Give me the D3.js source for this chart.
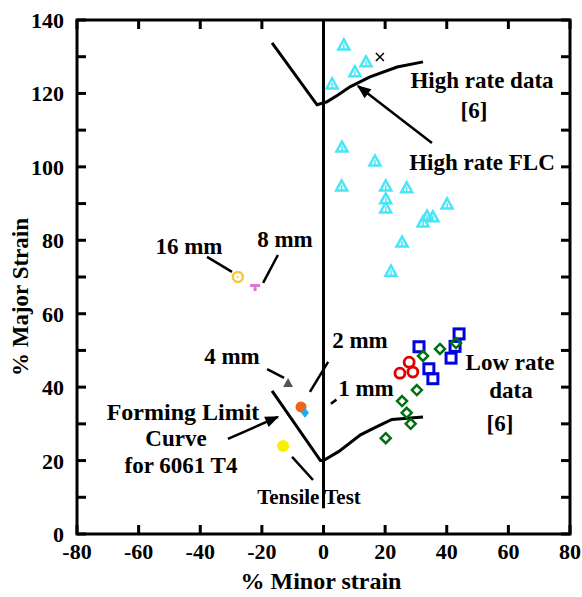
<!DOCTYPE html>
<html>
<head>
<meta charset="utf-8">
<script src="https://cdn.jsdelivr.net/npm/d3@7"></script>
<style>
  body { margin: 0; background: #fff; }
  svg text { font-family: "Liberation Serif", "DejaVu Serif", serif; font-weight: bold; fill: #000; }
</style>
</head>
<body>
<div class="chart"></div>
<script>
// high rate data [6] (cyan triangles)
const highRate = [
  [6.6, 133.2], [13.8, 128.6], [10.2, 125.9], [2.8, 122.6],
  [6.0, 105.4], [16.7, 101.6], [5.9, 94.8], [20.2, 94.8], [27.0, 94.3],
  [20.2, 91.3], [20.2, 88.8], [40.1, 89.9], [33.6, 86.6], [35.5, 86.4],
  [32.3, 85.0], [25.5, 79.5], [21.9, 71.6]
];
const highRateX = [[18.3, 129.9]];

// low rate data [6]
const lowSquares = [[44.0, 54.5], [31.0, 51.0], [42.7, 51.1], [41.4, 47.9], [34.2, 45.0], [35.5, 42.3]];
const lowCircles = [[27.8, 46.8], [24.8, 43.8], [29.0, 44.1]];
const lowDiamonds = [[37.8, 50.4], [32.3, 48.5], [43.0, 52.0], [30.3, 39.2], [25.5, 36.2], [27.0, 33.0], [28.3, 30.0], [20.2, 26.1]];

// punch size points
const mm16 = [-27.8, 70.0];
const mm8 = [-22.2, 67.3];
const mm4 = [-11.5, 41.1];
const mm2 = [-7.3, 34.6];
const mm1 = [-6.0, 33.0];
const tensile = [-13.1, 24.0];

// forming limit curves
const flcLow = [[-16.7, 39.0], [-1.0, 20.0], [0, 20.0], [5, 22.5], [12, 27], [17, 29.1], [22.2, 31.2], [32.3, 31.9]];
const flcHigh = [[-16.7, 133.8], [-2.1, 116.9], [1.1, 117.7], [4.7, 119.6], [8.6, 121.8], [15.1, 124.5], [23.9, 127.2], [32.3, 128.6]];
const zeroLine = [[0, 140], [0, 7]];

// leaders and arrows
const leaders = [
  [[-37.8, 75.5], [-29.7, 71.4]],
  [[-14.8, 76.0], [-19.6, 68.4]],
  [[-18.3, 44.9], [-12.8, 42.5]],
  [[1.5, 46.9], [-4.4, 38.7]],
  [[4.2, 36.6], [2.4, 35.5]],
  [[-3.4, 14.7], [-10.2, 21.0]]
];
const arrows = [
  [[35.2, 106.5], [11.2, 122.0]],
  [[-31.0, 25.9], [-14.8, 31.9]]
];

const xTicks = [-80, -60, -40, -20, 0, 20, 40, 60, 80];
const yTicks = [0, 20, 40, 60, 80, 100, 120, 140];
const yMinor = [10, 30, 50, 70, 90, 110, 130];

const width = 582;
const height = 597;
const m = { left: 77, right: 570, top: 20, bottom: 534 };

const svg = d3.select(".chart").append("svg").attr("width", width).attr("height", height);

const x = d3.scaleLinear().domain([-80, 80]).range([m.left, m.right]);
const y = d3.scaleLinear().domain([0, 140]).range([m.bottom, m.top]);

svg.append("defs").append("marker")
  .attr("id", "head").attr("viewBox", "0 0 10 10").attr("refX", 9).attr("refY", 5)
  .attr("markerWidth", 16).attr("markerHeight", 14).attr("orient", "auto")
  .attr("markerUnits", "userSpaceOnUse")
  .append("path").attr("d", "M0,1 L10,5 L0,9 Z").attr("fill", "#000");

// frame
svg.append("rect").attr("x", m.left).attr("y", m.top).attr("width", m.right - m.left).attr("height", m.bottom - m.top)
  .attr("fill", "none").attr("stroke", "#000").attr("stroke-width", 3);

// ticks (inward)
const tl = 9;
const g = svg.append("g").attr("stroke", "#000").attr("stroke-width", 3);
xTicks.forEach((t) => {
  g.append("line").attr("x1", x(t)).attr("x2", x(t)).attr("y1", m.bottom).attr("y2", m.bottom - tl);
  g.append("line").attr("x1", x(t)).attr("x2", x(t)).attr("y1", m.top).attr("y2", m.top + tl);
});
yTicks.concat(yMinor).forEach((t) => {
  g.append("line").attr("x1", m.left).attr("x2", m.left + tl).attr("y1", y(t)).attr("y2", y(t));
  g.append("line").attr("x1", m.right).attr("x2", m.right - tl).attr("y1", y(t)).attr("y2", y(t));
});

// tick labels
svg.selectAll(".xl").data(xTicks).join("text")
  .attr("x", (d) => x(d)).attr("y", 559).attr("text-anchor", "middle")
  .attr("font-size", 22).text((d) => d);
svg.selectAll(".yl").data(yTicks).join("text")
  .attr("x", 64).attr("y", (d) => y(d) + 8).attr("text-anchor", "end")
  .attr("font-size", 22).text((d) => d);

// axis titles
svg.append("text").attr("x", 321).attr("y", 589).attr("text-anchor", "middle")
  .attr("font-size", 24).text("% Minor strain");
svg.append("text").attr("transform", "translate(28,297) rotate(-90)").attr("text-anchor", "middle")
  .attr("font-size", 23).text("% Major Strain");

// curves
const line = d3.line().x((d) => x(d[0])).y((d) => y(d[1]));
svg.append("path").datum(zeroLine).attr("d", line).attr("stroke", "#000").attr("stroke-width", 3).attr("fill", "none");
[flcLow, flcHigh].forEach((c) => {
  svg.append("path").datum(c).attr("d", line).attr("stroke", "#000").attr("stroke-width", 3).attr("fill", "none");
});
leaders.forEach((l) => {
  svg.append("path").datum(l).attr("d", line).attr("stroke", "#000").attr("stroke-width", 2.5).attr("fill", "none");
});
arrows.forEach((l) => {
  svg.append("path").datum(l).attr("d", line).attr("stroke", "#000").attr("stroke-width", 2.5)
    .attr("fill", "none").attr("marker-end", "url(#head)");
});

// high rate triangles
const cyan = "#48E6F6";
const tri = svg.append("g").attr("stroke", cyan).attr("stroke-width", 2.5).attr("fill", "none");
highRate.forEach((d) => {
  const cx = x(d[0]), cy = y(d[1]);
  tri.append("path").attr("d", `M${cx - 5.5},${cy + 4.5} L${cx + 5.5},${cy + 4.5} L${cx},${cy - 5.5} Z`);
  tri.append("line").attr("x1", cx).attr("x2", cx).attr("y1", cy - 1).attr("y2", cy + 4).attr("stroke-width", 1.5);
});
highRateX.forEach((d) => {
  const cx = x(d[0]), cy = y(d[1]);
  svg.append("path").attr("d", `M${cx - 4},${cy - 4} L${cx + 4},${cy + 4} M${cx - 4},${cy + 4} L${cx + 4},${cy - 4}`)
    .attr("stroke", "#000").attr("stroke-width", 1.5);
});

// low rate markers
svg.selectAll(".sq").data(lowSquares).join("rect")
  .attr("x", (d) => x(d[0]) - 5).attr("y", (d) => y(d[1]) - 5).attr("width", 10).attr("height", 10)
  .attr("fill", "none").attr("stroke", "#0000E0").attr("stroke-width", 3);
svg.selectAll(".ci").data(lowCircles).join("circle")
  .attr("cx", (d) => x(d[0])).attr("cy", (d) => y(d[1])).attr("r", 5)
  .attr("fill", "none").attr("stroke", "#E00000").attr("stroke-width", 2.8);
svg.selectAll(".di").data(lowDiamonds).join("path")
  .attr("d", (d) => { const cx = x(d[0]), cy = y(d[1]); return `M${cx},${cy - 5} L${cx + 5},${cy} L${cx},${cy + 5} L${cx - 5},${cy} Z`; })
  .attr("fill", "none").attr("stroke", "#007010").attr("stroke-width", 2.5);

// punch size markers
svg.append("circle").attr("cx", x(mm16[0])).attr("cy", y(mm16[1])).attr("r", 5)
  .attr("fill", "none").attr("stroke", "#F8C838").attr("stroke-width", 2.5);
svg.append("circle").attr("cx", x(mm16[0])).attr("cy", y(mm16[1])).attr("r", 1).attr("fill", "#F8C838");
svg.append("path").attr("d", `M${x(mm8[0]) - 5},${y(mm8[1]) - 3} h10 v3 h-3.5 v4 h-3 v-4 h-3.5 Z`).attr("fill", "#D878D0");
svg.append("path").attr("d", `M${x(mm4[0]) - 5},${y(mm4[1]) + 4} L${x(mm4[0]) + 5},${y(mm4[1]) + 4} L${x(mm4[0])},${y(mm4[1]) - 5} Z`).attr("fill", "#555");
svg.append("circle").attr("cx", x(mm2[0])).attr("cy", y(mm2[1])).attr("r", 5.5).attr("fill", "#F06418");
svg.append("path").attr("d", `M${x(mm1[0]) - 4},${y(mm1[1])} L${x(mm1[0])},${y(mm1[1]) - 5} L${x(mm1[0]) + 4},${y(mm1[1])} L${x(mm1[0])},${y(mm1[1]) + 5} Z`).attr("fill", "#20A8F0");
svg.append("circle").attr("cx", x(tensile[0])).attr("cy", y(tensile[1])).attr("r", 6).attr("fill", "#F8F000");

// annotations
const notes = [
  ["High rate data", 482, 88, 23], ["[6]", 474, 118, 23],
  ["High rate FLC", 482, 170, 23],
  ["Low rate", 510, 370, 23], ["data", 511, 398, 23], ["[6]", 500, 431, 23],
  ["16 mm", 189, 254, 23], ["8 mm", 285, 247, 23], ["4 mm", 232, 364, 23],
  ["2 mm", 360, 348, 23], ["1 mm", 366, 396, 23],
  ["Forming Limit", 183, 420, 24], ["Curve", 176, 446, 23], ["for 6061 T4", 181, 473, 23],
  ["Tensile Test", 309, 504, 21]
];
svg.selectAll(".note").data(notes).join("text")
  .attr("x", (d) => d[1]).attr("y", (d) => d[2]).attr("text-anchor", "middle")
  .attr("font-size", (d) => d[3]).text((d) => d[0]);
</script>
</body>
</html>
